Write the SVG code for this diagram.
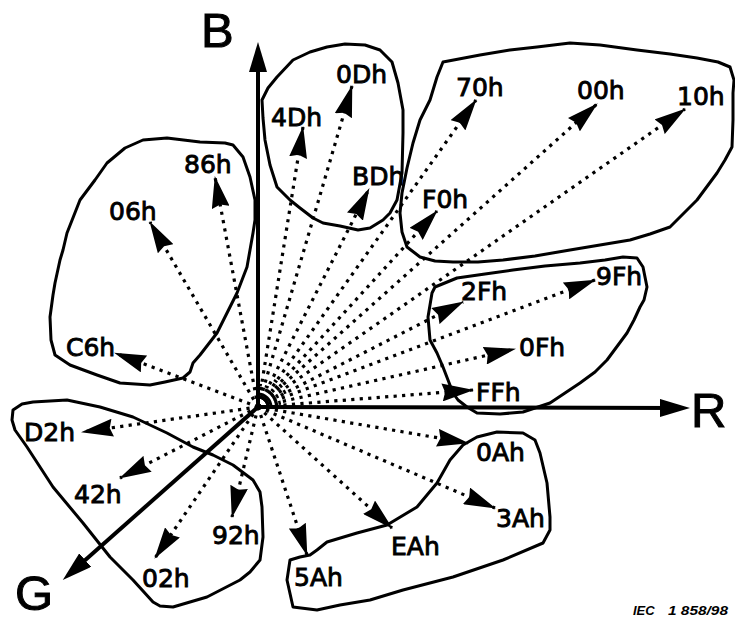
<svg xmlns="http://www.w3.org/2000/svg" width="735" height="619" viewBox="0 0 735 619">
<style>
.blob{fill:none;stroke:#000;stroke-width:3;stroke-linejoin:round}
.lbl{font-family:"DejaVu Sans",sans-serif;font-size:25px;fill:#000;stroke:#000;stroke-width:0.9}
.axl{font-family:"Liberation Sans",Arial,sans-serif;font-size:49px;fill:#000;stroke:#000;stroke-width:1}
.axis{stroke:#000;stroke-width:4;fill:none}
.dot{stroke:#000;stroke-width:3.2;stroke-dasharray:3.2 5.3;fill:none}
.iec{font-family:"Liberation Sans",Arial,sans-serif;font-size:13px;font-weight:bold;font-style:italic;fill:#000}
</style>
<defs>
<marker id="ah" markerUnits="userSpaceOnUse" viewBox="0 0 32 18" refX="31" refY="9" markerWidth="32" markerHeight="18" orient="auto"><path d="M0,0 L32,9 L0,18 L3,9 Z" fill="#000"/></marker>
<marker id="ax" markerUnits="userSpaceOnUse" viewBox="0 0 30 18" refX="15" refY="9" markerWidth="30" markerHeight="18" orient="auto"><path d="M0,0 L30,9 L0,18 Z" fill="#000"/></marker>
</defs>
<rect width="735" height="619" fill="#fff"/>

<g id="cluster-0Dh-4Dh-BDh"><polygon class="blob" points="262,100 268,88 277,77 293,60 310,52 327,47 345,44 365,45 380,50 392,62 398,83 403,110 403,133 402,173 397,200 390,213 383,220 370,228 358,230 340,226 323,223 313,218 300,208 290,200 277,187 270,165 265,140 263,118"/></g>
<g id="cluster-70h-00h-10h-F0h"><polygon class="blob" points="443,62 480,55 510,50 537,47 570,43 600,45 637,50 670,54 697,58 718,62 730,67 734,80 733,93 733,120 732,147 725,160 717,173 697,200 670,227 650,234 630,240 600,245 570,250 535,256 503,260 478,262 453,262 435,261 420,257 407,247 402,232 400,213 402,193 407,168 413,143 420,120 430,100 437,77"/></g>
<g id="cluster-2Fh-9Fh-0Fh-FFh"><polygon class="blob" points="432,293 435,287 457,278 485,274 513,270 545,266 580,263 605,260 623,257 637,258 643,267 647,287 644,300 640,307 634,320 627,333 607,360 595,372 580,383 565,393 550,403 523,412 500,414 477,413 467,407 458,400 453,393 448,380 443,367 437,353 430,340 428,317"/></g>
<g id="cluster-06h-86h-C6h"><polygon class="blob" points="143,140 167,138 200,142 225,143 233,145 243,157 250,177 255,200 255,220 253,233 250,250 247,267 237,293 217,333 200,355 193,363 190,372 183,378 165,382 150,385 120,383 97,375 70,365 55,355 51,340 50,317 53,295 55,283 60,260 63,250 67,233 80,200 95,180 107,163 125,148"/></g>
<g id="cluster-D2h-42h-92h-02h"><polygon class="blob" points="13,410 22,404 33,402 67,400 100,407 133,417 167,433 193,447 213,455 233,465 253,480 260,492 262,507 263,537 260,560 250,572 240,580 207,597 173,607 160,606 153,602 133,580 110,557 83,523 53,487 27,447 15,430 12,420"/></g>
<g id="cluster-5Ah-EAh-0Ah-3Ah"><polygon class="blob" points="290,560 300,557 310,555 317,550 327,542 357,533 387,525 417,507 437,483 450,460 463,445 477,437 497,432 523,433 535,440 540,453 547,483 550,517 550,530 543,543 503,560 453,577 403,590 370,600 340,605 317,610 293,607 287,580"/></g>

<g id="axes">
<line class="axis" x1="258" y1="407" x2="258" y2="57" marker-end="url(#ax)"/>
<line class="axis" x1="258" y1="407" x2="675" y2="408" marker-end="url(#ax)"/>
<line class="axis" x1="258" y1="407" x2="74" y2="570" marker-end="url(#ax)"/>
<path d="M258,394 A13,13 0 0 1 271,407" fill="none" stroke="#000" stroke-width="3"/>
<path d="M258,385 A22,22 0 0 1 280,407" fill="none" stroke="#000" stroke-width="2.5" stroke-dasharray="4 3"/>
<path d="M274,380 A31,31 0 0 1 286,395" fill="none" stroke="#000" stroke-width="2.5" stroke-dasharray="4 3"/>
</g>

<g id="connectors">
<line class="dot" x1="258" y1="407" x2="352" y2="86" marker-end="url(#ah)"/>
<line class="dot" x1="258" y1="407" x2="303" y2="127" marker-end="url(#ah)"/>
<line class="dot" x1="258" y1="407" x2="215" y2="177" marker-end="url(#ah)"/>
<line class="dot" x1="258" y1="407" x2="150" y2="222" marker-end="url(#ah)"/>
<line class="dot" x1="258" y1="407" x2="369" y2="189" marker-end="url(#ah)"/>
<line class="dot" x1="258" y1="407" x2="476" y2="100" marker-end="url(#ah)"/>
<line class="dot" x1="258" y1="407" x2="597" y2="104" marker-end="url(#ah)"/>
<line class="dot" x1="258" y1="407" x2="685" y2="109" marker-end="url(#ah)"/>
<line class="dot" x1="258" y1="407" x2="437" y2="211" marker-end="url(#ah)"/>
<line class="dot" x1="258" y1="407" x2="595" y2="280" marker-end="url(#ah)"/>
<line class="dot" x1="258" y1="407" x2="463" y2="302" marker-end="url(#ah)"/>
<line class="dot" x1="258" y1="407" x2="515" y2="349" marker-end="url(#ah)"/>
<line class="dot" x1="258" y1="407" x2="473" y2="390" marker-end="url(#ah)"/>
<line class="dot" x1="258" y1="407" x2="115" y2="353" marker-end="url(#ah)"/>
<line class="dot" x1="258" y1="407" x2="82" y2="432" marker-end="url(#ah)"/>
<line class="dot" x1="258" y1="407" x2="120" y2="478" marker-end="url(#ah)"/>
<line class="dot" x1="258" y1="407" x2="232" y2="517" marker-end="url(#ah)"/>
<line class="dot" x1="258" y1="407" x2="155" y2="558" marker-end="url(#ah)"/>
<line class="dot" x1="258" y1="407" x2="307" y2="555" marker-end="url(#ah)"/>
<line class="dot" x1="258" y1="407" x2="392" y2="528" marker-end="url(#ah)"/>
<line class="dot" x1="258" y1="407" x2="468" y2="443" marker-end="url(#ah)"/>
<line class="dot" x1="258" y1="407" x2="495" y2="508" marker-end="url(#ah)"/>
</g>

<g id="label-B"><text class="axl" x="201" y="47">B</text></g>
<g id="label-R"><text class="axl" x="691" y="427">R</text></g>
<g id="label-G"><text class="axl" x="15" y="610">G</text></g>

<g id="n-0Dh"><text class="lbl" x="336" y="83">0Dh</text></g>
<g id="n-4Dh"><text class="lbl" x="271" y="126">4Dh</text></g>
<g id="n-86h"><text class="lbl" x="184" y="173">86h</text></g>
<g id="n-06h"><text class="lbl" x="109" y="220">06h</text></g>
<g id="n-BDh"><text class="lbl" x="352" y="185">BDh</text></g>
<g id="n-70h"><text class="lbl" x="456" y="96">70h</text></g>
<g id="n-00h"><text class="lbl" x="577" y="99">00h</text></g>
<g id="n-10h"><text class="lbl" x="677" y="105">10h</text></g>
<g id="n-F0h"><text class="lbl" x="422" y="208">F0h</text></g>
<g id="n-9Fh"><text class="lbl" x="596" y="285">9Fh</text></g>
<g id="n-2Fh"><text class="lbl" x="461" y="300">2Fh</text></g>
<g id="n-0Fh"><text class="lbl" x="519" y="356">0Fh</text></g>
<g id="n-FFh"><text class="lbl" x="476" y="401">FFh</text></g>
<g id="n-C6h"><text class="lbl" x="66" y="356">C6h</text></g>
<g id="n-D2h"><text class="lbl" x="24" y="441">D2h</text></g>
<g id="n-42h"><text class="lbl" x="74" y="503">42h</text></g>
<g id="n-92h"><text class="lbl" x="212" y="544">92h</text></g>
<g id="n-02h"><text class="lbl" x="142" y="587">02h</text></g>
<g id="n-5Ah"><text class="lbl" x="294" y="586">5Ah</text></g>
<g id="n-EAh"><text class="lbl" x="391" y="555">EAh</text></g>
<g id="n-0Ah"><text class="lbl" x="476" y="461">0Ah</text></g>
<g id="n-3Ah"><text class="lbl" x="496" y="527">3Ah</text></g>

<g id="caption"><text class="iec" x="633" y="615">IEC</text><text class="iec" x="668" y="615" textLength="60" lengthAdjust="spacingAndGlyphs">1 858/98</text></g>
</svg>
